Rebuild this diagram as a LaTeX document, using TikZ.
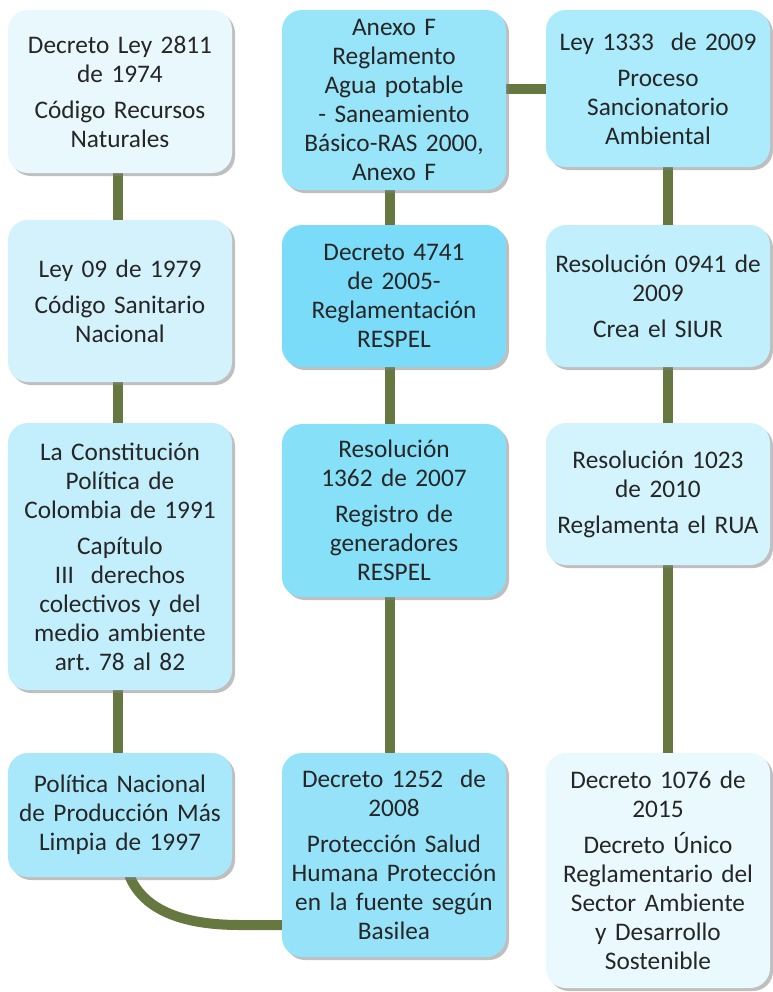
\documentclass[tikz,border=0pt]{standalone}
\usepackage{fontspec}
\setmainfont[WordSpace=0.8]{Carlito}
\frenchspacing
\usetikzlibrary{shadows, backgrounds}

\definecolor{linkgreen}{HTML}{66783F}
\definecolor{textgray}{HTML}{262626}
\definecolor{cA}{HTML}{E9F8FD}
\definecolor{cB}{HTML}{D3F2FC}
\definecolor{cC}{HTML}{C3EEFB}
\definecolor{cD}{HTML}{A9E8FA}
\definecolor{cE}{HTML}{98E4F9}
\definecolor{cF}{HTML}{7ADCF8}
\definecolor{cG}{HTML}{86E0F8}
\definecolor{cH}{HTML}{96E3F9}
\definecolor{cI}{HTML}{ABEBFB}
\definecolor{cJ}{HTML}{C1EFFC}
\definecolor{cK}{HTML}{D4F4FD}
\definecolor{cL}{HTML}{E9F9FE}

\begin{document}
\begin{tikzpicture}[x=1bp, y=-1bp,
  box/.style={rounded corners=20bp, minimum width=224bp, text width=224bp,
    align=center, inner sep=0pt, text=textgray,
    font=\fontsize{25.3bp}{29bp}\selectfont,
    drop shadow={shadow xshift=3bp, shadow yshift=-3bp, opacity=0.5}},
  link/.style={draw=linkgreen, line width=10bp}]
\useasboundingbox (0,0) rectangle (773,992);

% first column
\node[box, fill=cA, minimum height=163bp] (DL2811) at (120,91.5)
  {Decreto Ley 2811\\de 1974\\[7bp]Código Recursos\\Naturales};
\node[box, fill=cB, minimum height=162bp] (L09) at (120,301)
  {Ley 09 de 1979\\[7bp]Código Sanitario\\Nacional};
\node[box, fill=cC, minimum height=267bp] (CP91) at (120,556.5)
  {La Constitución\\Política de\\Colombia de 1991\\[7bp]Capítulo\\III~ derechos\\colectivos y del\\medio ambiente\\art. 78 al 82};
\node[box, fill=cD, minimum height=124bp] (PML) at (120,815)
  {Política Nacional\\de Producción Más\\Limpia de 1997};

% second column
\node[box, fill=cE, minimum height=180bp] (RAS) at (394,100)
  {Anexo F\\Reglamento\\Agua potable\\- Saneamiento\\Básico-RAS 2000,\\Anexo F};
\node[box, fill=cF, minimum height=142bp] (D4741) at (394,296)
  {Decreto 4741\\de 2005-\\Reglamentación\\RESPEL};
\node[box, fill=cG, minimum height=173bp] (R1362) at (394,510.5)
  {Resolución\\1362 de 2007\\[7bp]Registro de\\generadores\\RESPEL};
\node[box, fill=cH, minimum height=204bp] (D1252) at (394,855)
  {Decreto 1252~ de\\2008\\[7bp]Protección Salud\\Humana Protección\\en la fuente según\\Basilea};

% third column
\node[box, fill=cI, minimum height=157bp] (L1333) at (658,88.5)
  {Ley 1333~ de 2009\\[7bp]Proceso\\Sancionatorio\\Ambiental};
\node[box, fill=cJ, minimum height=142bp] (R0941) at (658,296)
  {Resolución 0941 de\\2009\\[7bp]Crea el SIUR};
\node[box, fill=cK, minimum height=142bp] (R1023) at (658,494)
  {Resolución 1023\\de 2010\\[7bp]Reglamenta el RUA};
\node[box, fill=cL, minimum height=235bp] (D1076) at (658,870.5)
  {Decreto 1076 de\\2015\\[7bp]Decreto Único\\Reglamentario del\\Sector Ambiente\\y Desarrollo\\Sostenible};

\begin{scope}[on background layer]
\draw[link] ([xshift=-2bp]DL2811.center) -- ([xshift=-2bp]L09.center)
  -- ([xshift=-2bp]CP91.center) -- ([xshift=-2bp]PML.center);
\draw[link] ([xshift=10bp]PML.center) -- ([xshift=10bp]PML.south)
  .. controls +(15,34) and +(-55,0) .. ([xshift=-42bp, yshift=-70bp]D1252.west)
  -- ([yshift=-70bp]D1252.center);
\draw[link] ([xshift=-4bp]RAS.center) -- ([xshift=-4bp]D4741.center)
  -- ([xshift=-4bp]R1362.center) -- ([xshift=-4bp]D1252.center);
\draw[link] (RAS.center |- L1333.west) -- (L1333.center);
\draw[link] ([xshift=10bp]L1333.center) -- ([xshift=10bp]R0941.center)
  -- ([xshift=10bp]R1023.center) -- ([xshift=10bp]D1076.center);
\end{scope}
\end{tikzpicture}
\end{document}
